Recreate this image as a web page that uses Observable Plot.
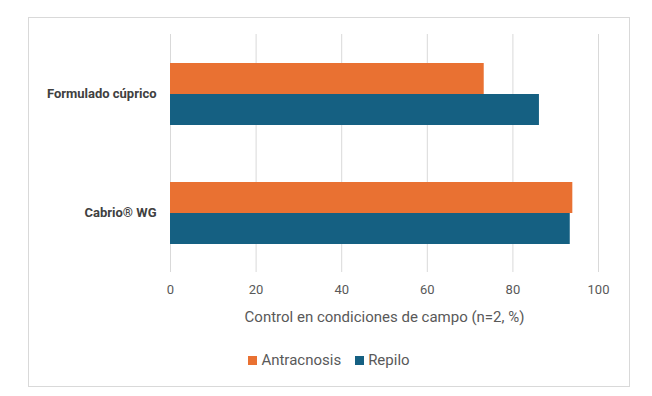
<!DOCTYPE html>
<html><head><meta charset="utf-8">
<script src="https://cdn.jsdelivr.net/npm/d3@7"></script>
<script src="https://cdn.jsdelivr.net/npm/@observablehq/plot@0.6"></script>
<style>
html,body{margin:0;padding:0;background:#fff;}
#box{position:absolute;left:28px;top:17px;width:600px;height:368px;border:1px solid #d9d9d9;background:#fff;}
#chart{position:absolute;left:0;top:0;}
#legend{position:absolute;left:0;top:333px;width:600px;display:flex;justify-content:center;gap:14px;font-family:Roboto,"Open Sans",sans-serif;font-size:15px;color:#595959;}
#legend span{display:inline-flex;align-items:center;}
#legend i{display:inline-block;width:9px;height:9px;margin-right:4px;}
</style></head>
<body>
<div id="box"><div id="chart"></div><div id="legend"></div></div>
<script>
const categories = ["Formulado cúprico", "Cabrio® WG"];
const series = ["Antracnosis", "Repilo"];
const colors = ["#E97132", "#156082"];
const antracnosis = [73.3, 94.0];
const repilo = [86.2, 93.4];
const xTicks = [0, 20, 40, 60, 80, 100];
const xLabel = "Control en condiciones de campo (n=2, %)";

const rowsA = categories.map((c, i) => ({category: c, series: series[0], value: antracnosis[i]}));
const rowsR = categories.map((c, i) => ({category: c, series: series[1], value: repilo[i]}));

const plot = Plot.plot({
  width: 600,
  height: 312,
  marginLeft: 141,
  marginRight: 31,
  marginTop: 16,
  marginBottom: 58,
  style: {fontFamily: "Roboto, 'Open Sans', sans-serif", background: "transparent"},
  x: {domain: [0, 100]},
  y: {domain: categories, padding: 0},
  color: {domain: series, range: colors},
  marks: [
    Plot.gridX(xTicks, {stroke: "#d9d9d9", strokeOpacity: 1}),
    Plot.barX(rowsA, {y: "category", x: "value", fill: "series", insetTop: 29, insetBottom: 59}),
    Plot.barX(rowsR, {y: "category", x: "value", fill: "series", insetTop: 60, insetBottom: 28}),
    Plot.axisX({ticks: xTicks, tickSize: 0, tickPadding: 12, fontSize: 13, color: "#595959",
      label: xLabel, labelAnchor: "center", labelArrow: "none", labelOffset: 49}),
    Plot.axisY({tickSize: 0, tickPadding: 14, fontSize: 13, fontWeight: "bold", color: "#404040", label: null})
  ]
});
plot.querySelectorAll("[aria-label='x-axis label'] text, [aria-label='x-axis label']").forEach(e => e.setAttribute("font-size", "15"));
document.getElementById("chart").appendChild(plot);

const legend = document.getElementById("legend");
series.forEach((s, i) => {
  const el = document.createElement("span");
  el.innerHTML = `<i style="background:${colors[i]}"></i>${s}`;
  legend.appendChild(el);
});
</script>
</body></html>
